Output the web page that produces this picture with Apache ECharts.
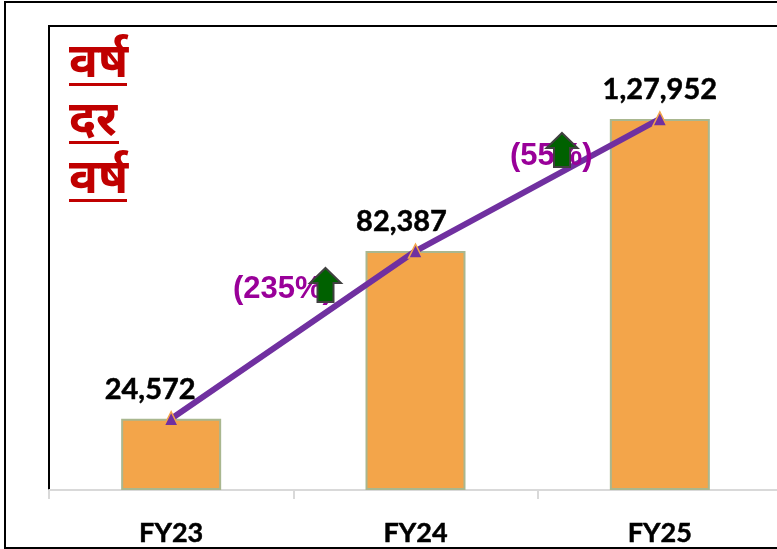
<!DOCTYPE html>
<html>
<head>
<meta charset="utf-8">
<style>
  html, body { margin: 0; padding: 0; background: #fff; overflow: hidden; }
  #chart { width: 777px; height: 549px; }
</style>
<script src="https://cdn.jsdelivr.net/npm/echarts@6/dist/echarts.min.js"></script>
</head>
<body>
<div id="chart"></div>
<script>
var categories = ['FY23', 'FY24', 'FY25'];
var revenue = [24572, 82387, 127952];
var valueLabels = ['24,572', '82,387', '1,27,952'];

var ORANGE = '#F3A54A', PURPLE = '#7030A0', MAGENTA = '#990099', RED = '#C00000';

// heading lines, y is the underline
function heading(text, y, width) {
  return [
    { type: 'text', x: 69, y: y - 39, z: 20,
      style: { text: text, fill: RED, font: 'bold 48px "Noto Sans Devanagari", "Noto Sans", sans-serif' } },
    { type: 'rect', shape: { x: 69, y: y, width: width, height: 3 }, z: 20,
      style: { fill: RED } }
  ];
}

function growthNote(text, x, y) {
  return { type: 'text', x: x, y: y, z: 20,
    style: { text: text, fill: MAGENTA, font: 'bold 31px "Liberation Sans", Arial, sans-serif' } };
}

// y is where the arrow head meets the shaft
function upArrow(x, y) {
  return { type: 'polygon', x: x, y: y, z: 21,
    shape: { points: [[0, -15], [15.5, 0], [8, 0], [8, 19], [-8, 19], [-8, 0], [-15.5, 0]] },
    style: { fill: '#006100', stroke: '#404040', lineWidth: 2 } };
}

var chart = echarts.init(document.getElementById('chart'));
var option = {
  animation: false,
  backgroundColor: '#fff',
  // plot runs off the right edge of the picture
  grid: { left: 49, width: 733, top: 26, height: 464, outerBoundsMode: 'none', show: true, borderColor: '#000', borderWidth: 2 },
  xAxis: {
    type: 'category',
    data: categories,
    axisLine: { lineStyle: { color: '#D9D9D9', width: 2 } },
    axisTick: { show: true, length: 9, lineStyle: { color: '#D9D9D9', width: 2 } },
    axisLabel: { color: '#000', fontFamily: 'Lato', fontWeight: 'bold', fontSize: 27, margin: 30,
      textBorderColor: '#000', textBorderWidth: 0.5 }
  },
  yAxis: {
    type: 'value', min: 0, max: 160000,
    axisLine: { show: false }, axisTick: { show: false }, axisLabel: { show: false }, splitLine: { show: false }
  },
  series: [
    {
      type: 'bar',
      data: revenue,
      barWidth: 100,
      itemStyle: { color: ORANGE, borderColor: '#A9B78F', borderWidth: 2 }
    },
    {
      type: 'line',
      // first two labels sit left of their points in the original
      data: revenue.map(function (v, i) {
        return { value: v, label: { offset: [[-21, 0], [-14, 0], [0, 0]][i] } };
      }),
      symbol: 'triangle',
      symbolSize: 14,
      lineStyle: { color: PURPLE, width: 6 },
      itemStyle: { color: PURPLE, borderColor: ORANGE, borderWidth: 1.5 },
      label: {
        show: true, position: 'top', distance: 7,
        color: '#000', fontFamily: 'Lato', fontWeight: 'bold', fontSize: 29,
        textBorderColor: '#000', textBorderWidth: 0.5,
        formatter: function (p) { return valueLabels[p.dataIndex]; }
      }
    }
  ],
  graphic: [
    { type: 'rect', shape: { x: 5, y: 2, width: 790, height: 546 }, style: { fill: 'none', stroke: '#000', lineWidth: 2 } }
  ].concat(
    heading('वर्ष', 83, 58),
    heading('दर', 141, 50),
    heading('वर्ष', 199, 58),
    [growthNote('(235%)', 233, 274), upArrow(325.5, 283), growthNote('(55%)', 510, 141), upArrow(562, 148)]
  )
};
chart.setOption(option);
</script>
</body>
</html>
